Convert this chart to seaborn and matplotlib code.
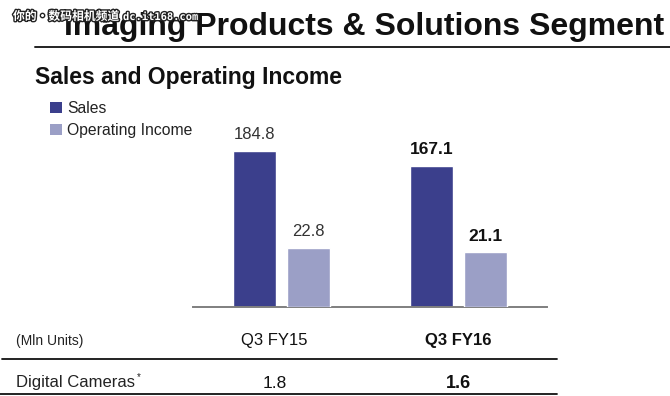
import matplotlib
matplotlib.use("Agg")
import matplotlib.pyplot as plt
import matplotlib.patheffects as pe
from matplotlib.patches import Patch
from matplotlib.lines import Line2D
import seaborn as sns
import pandas as pd

# ---- data ----
quarters = ["Q3 FY15", "Q3 FY16"]
series_names = ["Sales", "Operating Income"]
sales = [184.8, 167.1]
operating_income = [22.8, 21.1]
camera_units = ["1.8", "1.6"]

title = "Imaging Products & Solutions Segment"
subtitle = "Sales and Operating Income"
unit_label = "(Mln Units)"
row_label = "Digital Cameras"
watermark_cn = "你的•数码相机频道"
watermark_url = "dc.it168.com"

colors = {"Sales": "#3b3f8c", "Operating Income": "#9b9fc6"}

sns.set_theme(style="white")
plt.rcParams["font.family"] = ["Liberation Sans", "DejaVu Sans"]

W, H = 670, 396
fig = plt.figure(figsize=(W / 100, H / 100), dpi=100)


def fx(x):
    return x / W


def fy(y):
    return 1 - y / H


ax_top, ax_bot, ax_l, ax_r = 120, 307, 193, 547
ax = fig.add_axes([fx(ax_l), fy(ax_bot), (ax_r - ax_l) / W, (ax_bot - ax_top) / H])

df_sales = pd.DataFrame({"quarter": quarters, "value": sales, "series": "Sales"})
df_op = pd.DataFrame({"quarter": quarters, "value": operating_income,
                      "series": "Operating Income"})

sns.barplot(data=df_sales, x="quarter", y="value", hue="series",
            hue_order=series_names, palette=colors, width=0.605, gap=0.207,
            dodge=True, saturation=1, legend=False, ax=ax)
ax2 = ax.twinx()
sns.barplot(data=df_op, x="quarter", y="value", hue="series",
            hue_order=series_names, palette=colors, width=0.605, gap=0.207,
            dodge=True, saturation=1, legend=False, ax=ax2)

ax.set_ylim(0, 221.5)
ax2.set_ylim(0, 72.3)
ax.set_xlim(-0.5, 1.5)
for a in (ax, ax2):
    a.set_xlabel("")
    a.set_ylabel("")
    a.set_xticks([])
    a.set_yticks([])
    for s in a.spines.values():
        s.set_visible(False)
    a.patch.set_alpha(0)
ax.spines["bottom"].set_visible(True)
ax.spines["bottom"].set_color("#7f7f7f")
ax.spines["bottom"].set_linewidth(1.4)


def label_bars(a, values):
    bars = [p for p in a.patches if p.get_height() > 0]
    bars.sort(key=lambda p: p.get_x())
    for i, (p, v) in enumerate(zip(bars, values)):
        bold = i == 1
        a.annotate(f"{v:.1f}", (p.get_x() + p.get_width() / 2, p.get_height()),
                   xytext=(0, 8.5), textcoords="offset points", ha="center",
                   va="baseline", fontsize=12.5 if bold else 12,
                   fontweight="bold" if bold else "normal",
                   color="#111111" if bold else "#333333")


label_bars(ax, sales)
label_bars(ax2, operating_income)

# ---- titles ----
fig.text(fx(64), fy(35), title, fontsize=23, fontweight="bold",
         color="#111111", va="baseline", ha="left")
fig.add_artist(Line2D([fx(35), fx(670)], [fy(47), fy(47)], color="#222222", lw=1.4))
fig.text(fx(35), fy(84), subtitle, fontsize=16.5, fontweight="bold",
         color="#111111", va="baseline", ha="left")

# watermark
fx_eff = [pe.withStroke(linewidth=2, foreground="#222222")]
fig.text(fx(13), fy(20), watermark_cn, fontsize=8.5, color="white",
         family=["Noto Sans CJK SC", "DejaVu Sans"], fontweight="bold",
         va="baseline", path_effects=fx_eff, zorder=5)
fig.text(fx(123), fy(20), watermark_url, fontsize=7.5, color="white",
         family="DejaVu Sans Mono", fontweight="bold", va="baseline",
         path_effects=fx_eff, zorder=5)

# legend
handles = [Patch(facecolor=colors[s], edgecolor="none") for s in series_names]
fig.legend(handles, series_names, loc="upper left",
           bbox_to_anchor=(fx(50), fy(101)), frameon=False, fontsize=11.3,
           handlelength=0.75, handleheight=0.75, handletextpad=0.35,
           labelspacing=0.45, borderpad=0, borderaxespad=0,
           labelcolor="#222222")

# ---- table ----
fig.canvas.draw()
col_x = [ax.transData.transform((i, 0))[0] / W for i in range(len(quarters))]
fig.text(fx(16), fy(341), unit_label, fontsize=10, color="#222222", va="center")
fig.text(fx(16), fy(383), row_label, fontsize=12, color="#222222", va="center")
fig.text(fx(137), fy(377), "*", fontsize=7, color="#222222", va="center")
for i, (q, u) in enumerate(zip(quarters, camera_units)):
    bold = i == 1
    xc = col_x[i] - fx(7) if i == 0 else col_x[i]
    fig.text(xc, fy(341), q, fontsize=12,
             fontweight="bold" if bold else "normal", color="#111111",
             ha="center", va="center")
    fig.text(xc, fy(383), u,
             fontsize=13 if bold else 12.5,
             fontweight="bold" if bold else "normal", color="#111111",
             ha="center", va="center")
fig.add_artist(Line2D([fx(2), fx(557)], [fy(359), fy(359)], color="#111111", lw=1.3))
fig.add_artist(Line2D([fx(0), fx(557)], [fy(394), fy(394)], color="#111111", lw=1.3))

fig.savefig("out.png", dpi=100)
